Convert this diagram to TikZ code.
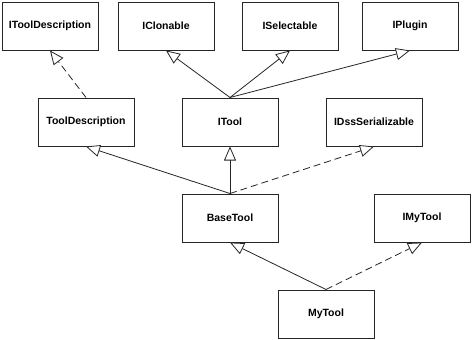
\documentclass[tikz,border=0pt]{standalone}
\usepackage{fontspec}
\setmainfont{Liberation Sans}
\usetikzlibrary{arrows.meta}
\begin{document}
\begin{tikzpicture}[x=1pt,y=-1pt,
  cls/.style={draw=black!85, line width=1pt, minimum width=96pt, minimum height=48pt, inner sep=0pt, fill=white,
    font=\bfseries\fontsize{10.5}{12}\selectfont},
  inh/.style={-{Triangle[open,length=14pt,width=12pt,fill=white]}, line width=0.8pt, draw=black!85},
  real/.style={inh, dash pattern=on 7pt off 4pt}]
\useasboundingbox[fill=white] (0,0) rectangle (472,340);
\node[cls] (itd) at (50,26) {IToolDescription};
\node[cls] (icl) at (166,26) {IClonable};
\node[cls] (isel) at (290,26) {ISelectable};
\node[cls] (ipl) at (410,26) {IPlugin};
\node[cls] (td) at (86,122) {ToolDescription};
\node[cls] (itool) at (230,122) {ITool};
\node[cls] (idss) at (374,122) {IDssSerializable};
\node[cls] (base) at (230,218) {BaseTool};
\node[cls] (imy) at (422,218) {IMyTool};
\node[cls] (my) at (326,314) {MyTool};
\draw[real] (td.north) -- (itd.south);
\draw[inh] (itool.north) -- (icl.south);
\draw[inh] (itool.north) -- (isel.south);
\draw[inh] (itool.north) -- (ipl.south);
\draw[inh] (base.north) -- (td.south);
\draw[inh] (base.north) -- (itool.south);
\draw[real] (base.north) -- (idss.south);
\draw[inh] (my.north) -- (base.south);
\draw[real] (my.north) -- (imy.south);
\end{tikzpicture}
\end{document}
